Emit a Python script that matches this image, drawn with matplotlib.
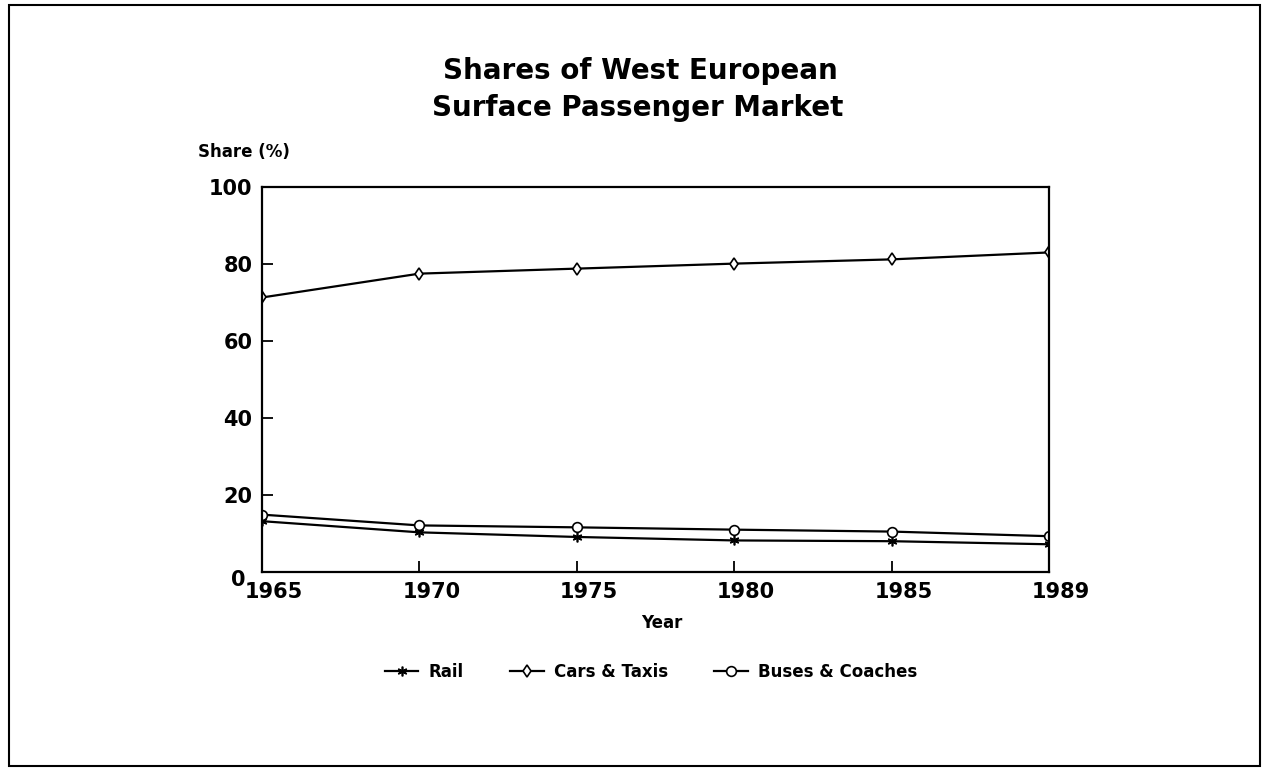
import matplotlib
matplotlib.use('Agg')
import matplotlib.pyplot as plt
from matplotlib.transforms import ScaledTranslation
from matplotlib.patches import Rectangle

years = ['1965', '1970', '1975', '1980', '1985', '1989']
rail = [13.2, 10.3, 9.1, 8.2, 8.0, 7.2]
cars_taxis = [71.3, 77.5, 78.8, 80.1, 81.2, 83.0]
buses_coaches = [14.9, 12.1, 11.6, 11.0, 10.5, 9.3]
y_ticks = [0, 20, 40, 60, 80, 100]

plt.rcParams['font.family'] = 'DejaVu Sans'
plt.rcParams['font.weight'] = 'bold'

fig = plt.figure(figsize=(12.7, 7.69), dpi=100)
ax = fig.add_axes([262/1270, 1 - 572/769, (1049-262)/1270, (572-187)/769])

x = list(range(len(years)))
ax.plot(x, rail, color='black', lw=1.6, marker=(6, 2, 0), ms=7, mew=1.2, label='Rail')
ax.plot(x, cars_taxis, color='black', lw=1.6, marker='d', ms=6, mfc='white', mew=1.2, label='Cars & Taxis')
ax.plot(x, buses_coaches, color='black', lw=1.6, marker='o', ms=7, mfc='white', mew=1.2, label='Buses & Coaches')

ax.set_xlim(0, len(years) - 1)
ax.set_ylim(0, 100)
ax.set_xticks(x)
ax.set_xticklabels(years)
ax.set_yticks(y_ticks)
ax.tick_params(direction='in', length=8, width=1.3, labelsize=15, pad=7,
               top=False, right=False)
for s in ax.spines.values():
    s.set_linewidth(1.6)

# labels in the original sit a bit to the right of the ticks
off = ScaledTranslation(12/100, 0, fig.dpi_scale_trans)
for lab in ax.get_xticklabels():
    lab.set_transform(lab.get_transform() + off)
off0 = ScaledTranslation(-7/100, -6/100, fig.dpi_scale_trans)
ax.get_yticklabels()[0].set_transform(ax.get_yticklabels()[0].get_transform() + off0)

fig.text(640/1270, 1 - 71/769, 'Shares of West European', ha='center', va='center', fontsize=20)
fig.text(638/1270, 1 - 108/769, 'Surface Passenger Market', ha='center', va='center', fontsize=20)
fig.text(198/1270, 1 - 152/769, 'Share (%)', ha='left', va='center', fontsize=12)
fig.text(662/1270, 1 - 623/769, 'Year', ha='center', va='center', fontsize=12)

fig.legend(loc='center', bbox_to_anchor=(651/1270, 1 - 672/769), ncol=3, frameon=False,
           fontsize=12, handlelength=2.0, handletextpad=0.6, columnspacing=2.8)

fig.patches.append(Rectangle((9/1270, 3/769), 1251/1270, 761/769, transform=fig.transFigure,
                             fill=False, edgecolor='black', lw=1.5))

fig.savefig('out.png', dpi=100)
